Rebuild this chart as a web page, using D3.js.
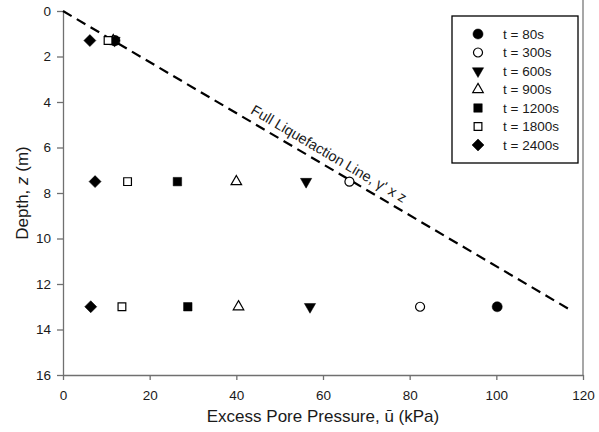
<html>
<head>
<script src="https://d3js.org/d3.v7.min.js"></script>
<style>
body { margin: 0; background: #fff; }
text { font-family: "Liberation Sans", Arial, sans-serif; fill: #1a1a1a; }
.axis path, .axis line { stroke: #707070; stroke-width: 1.3; }
.axis text { font-size: 13.5px; fill: #1a1a1a; }
</style>
</head>
<body>
<script type="text/javascript">

// series labels and symbol types
var seriesNames = ["t = 80s", "t = 300s", "t = 600s", "t = 900s", "t = 1200s", "t = 1800s", "t = 2400s"];
var symbolKinds = ["circleFilled", "circleOpen", "triDownFilled", "triOpen", "squareFilled", "squareOpen", "diamondFilled"];

// depths of the sensors (m)
var depths = [1.3, 7.5, 13];

// excess pore pressure (kPa) per series, one value per depth
var pressure80 = [12.0, null, 100.2];
var pressure300 = [11.8, 66.1, 82.4];
var pressure600 = [11.9, 56.1, 57.0];
var pressure900 = [11.6, 40.0, 40.5];
var pressure1200 = [11.7, 26.4, 28.8];
var pressure1800 = [10.4, 14.9, 13.6];
var pressure2400 = [6.2, 7.4, 6.4];

// full liquefaction line (u = gamma' * z)
var lineDepth = [0, 13.12];
var linePressure = [0, 116.9];

var xTicks = [0, 20, 40, 60, 80, 100, 120];
var yTicks = [0, 2, 4, 6, 8, 10, 12, 14, 16];

var allSeries = [pressure80, pressure300, pressure600, pressure900, pressure1200, pressure1800, pressure2400];

var margin = {top: 11, left: 63, right: 16, bottom: 57};
var W = 599, H = 432;

var svg = d3.select("body").append("svg")
    .attr("width", W)
    .attr("height", H);

var x = d3.scaleLinear().domain([0, 120]).range([margin.left, W - margin.right]);
var y = d3.scaleLinear().domain([0, 16]).range([margin.top, H - margin.bottom]);

// right spine
svg.append("line")
    .attr("x1", x(120)).attr("x2", x(120))
    .attr("y1", 0).attr("y2", y(16))
    .attr("stroke", "#8a8a8a")
    .attr("stroke-width", 1.5);

svg.append("g")
    .attr("class", "axis")
    .attr("transform", "translate(0," + y(16) + ")")
    .call(d3.axisBottom(x).tickValues(xTicks).tickSize(5).tickSizeOuter(0).tickPadding(10));

svg.append("g")
    .attr("class", "axis")
    .attr("transform", "translate(" + x(0) + ",0)")
    .call(d3.axisLeft(y).tickValues(yTicks).tickSize(6).tickSizeOuter(0).tickPadding(6));

// axis titles
svg.append("text")
    .attr("x", (x(0) + x(120)) / 2)
    .attr("y", 422)
    .attr("text-anchor", "middle")
    .style("font-size", "17px")
    .text("Excess Pore Pressure, \u016b (kPa)");

var yt = svg.append("text")
    .attr("transform", "translate(28," + y(8.0) + ") rotate(-90)")
    .attr("text-anchor", "middle")
    .style("font-size", "17px");
yt.append("tspan").text("Depth, ");
yt.append("tspan").style("font-style", "italic").text("z");
yt.append("tspan").text(" (m)");

// liquefaction line
var linePts = lineDepth.map(function(d, i) { return [linePressure[i], d]; });
svg.append("path")
    .datum(linePts)
    .attr("fill", "none")
    .attr("stroke", "#000")
    .attr("stroke-width", 2.2)
    .attr("stroke-dasharray", "10,6")
    .attr("d", d3.line().x(function(d) { return x(d[0]); }).y(function(d) { return y(d[1]); }));

var ang = Math.atan2(y(lineDepth[1]) - y(0), x(linePressure[1]) - x(0)) * 180 / Math.PI;
svg.append("text")
    .attr("transform", "translate(" + x(42.3) + "," + y(4.75) + ") rotate(" + ang + ")")
    .attr("dy", -7)
    .style("font-size", "14.5px")
    .text("Full Liquefaction Line, \u03b3' x z");

// symbols
function drawSymbol(g, kind) {
    var filled = kind.indexOf("Filled") > 0;
    var type, size, rot = 0;
    if (kind.indexOf("circle") == 0) { type = d3.symbolCircle; size = filled ? 80 : 64; }
    else if (kind.indexOf("triDown") == 0) { type = d3.symbolTriangle; size = 55; rot = 180; }
    else if (kind.indexOf("tri") == 0) { type = d3.symbolTriangle; size = 48; }
    else if (kind.indexOf("square") == 0) { type = d3.symbolSquare; size = filled ? 72 : 60; }
    else { type = d3.symbolSquare; size = 72; rot = 45; }
    g.append("path")
        .attr("d", d3.symbol().type(type).size(size)())
        .attr("transform", "rotate(" + rot + ")")
        .attr("fill", filled ? "#000" : "#fff")
        .attr("stroke", "#000")
        .attr("stroke-width", filled ? 0.5 : 1.2);
}

allSeries.forEach(function(vals, si) {
    vals.forEach(function(v, di) {
        if (v == null) return;
        var g = svg.append("g")
            .attr("transform", "translate(" + x(v) + "," + y(depths[di]) + ")");
        drawSymbol(g, symbolKinds[si]);
    });
});

// legend
var lg = svg.append("g").attr("transform", "translate(452,16)");
lg.append("rect")
    .attr("width", 126)
    .attr("height", 147)
    .attr("fill", "#fff")
    .attr("stroke", "#000")
    .attr("stroke-width", 1.3);

seriesNames.forEach(function(name, i) {
    var row = lg.append("g").attr("transform", "translate(26," + (18 + i * 18.5) + ")");
    drawSymbol(row, symbolKinds[i]);
    row.append("text")
        .attr("x", 25)
        .attr("dy", "0.35em")
        .style("font-size", "13.5px")
        .text(name);
});

</script>
</body>
</html>
